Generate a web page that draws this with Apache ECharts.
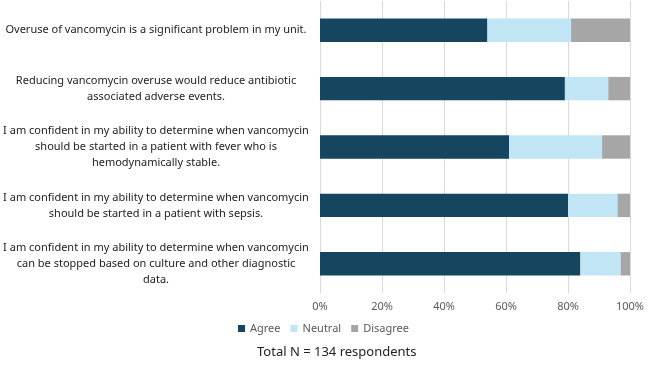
<!DOCTYPE html>
<html>
<head>
<meta charset="utf-8">
<script src="https://cdn.jsdelivr.net/npm/echarts@6/dist/echarts.min.js"></script>
<style>
  html, body { margin: 0; padding: 0; background: #fff; }
  #container { width: 650px; height: 366px; }
</style>
</head>
<body>
<div id="container"></div>
<script>
// data
var statements = [
    'Overuse of vancomycin is a significant problem in my unit.',
    'Reducing vancomycin overuse would reduce antibiotic\nassociated adverse events.',
    'I am confident in my ability to determine when vancomycin\nshould be started in a patient with fever who is\nhemodynamically stable.',
    'I am confident in my ability to determine when vancomycin\nshould be started in a patient with sepsis.',
    'I am confident in my ability to determine when vancomycin\ncan be stopped based on culture and other diagnostic\ndata.'
];
var agree = [54, 79, 61, 80, 84];
var neutral = [27, 14, 30, 16, 13];
var disagree = [19, 7, 9, 4, 3];
var xTicks = [0, 20, 40, 60, 80, 100];

var dom = document.getElementById('container');
var myChart = echarts.init(dom, null, { renderer: 'canvas' });
var font = 'Noto Sans';

function barSeries(name, values, color) {
    return {
        name: name,
        type: 'bar',
        stack: 'total',
        barCategoryGap: '60%',
        itemStyle: { color: color },
        emphasis: { disabled: true },
        data: values
    };
}

var option = {
    animation: false,
    textStyle: { fontFamily: font },
    title: {
        text: 'Total N = 134 respondents',
        left: 252,
        top: 341,
        textStyle: { fontFamily: font, fontSize: 13, fontWeight: 'normal', color: '#222' }
    },
    legend: {
        left: 233,
        top: 318,
        itemWidth: 7,
        itemHeight: 7,
        itemGap: 10,
        icon: 'rect',
        textStyle: { fontFamily: font, fontSize: 11, color: '#595959' },
        data: ['Agree', 'Neutral', 'Disagree']
    },
    grid: { left: 320, right: 20, top: 1, bottom: 73, containLabel: false, outerBoundsMode: 'none' },
    xAxis: {
        type: 'value',
        min: xTicks[0],
        max: xTicks[xTicks.length - 1],
        interval: 20,
        axisLine: { show: false },
        axisTick: { show: false },
        axisLabel: { formatter: '{value}%', color: '#595959', fontSize: 11, fontFamily: font, margin: 8 },
        splitLine: { lineStyle: { color: '#d9d9d9', width: 1 } }
    },
    yAxis: {
        type: 'category',
        inverse: true,
        data: statements,
        axisLine: { show: false },
        axisTick: { show: false },
        axisLabel: {
            align: 'center',
            margin: 164,
            color: '#222',
            fontSize: 11,
            lineHeight: 16,
            fontFamily: font
        }
    },
    series: [
        barSeries('Agree', agree, '#15455f'),
        barSeries('Neutral', neutral, '#c2e5f5'),
        barSeries('Disagree', disagree, '#a6a6a6')
    ]
};

myChart.setOption(option);
window.addEventListener('resize', myChart.resize);
</script>
</body>
</html>
